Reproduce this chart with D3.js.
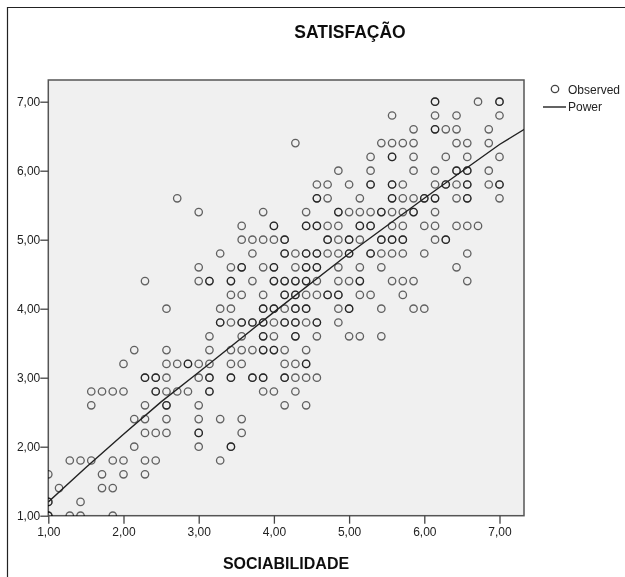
<!DOCTYPE html>
<html><head><meta charset="utf-8">
<style>html,body{margin:0;padding:0;background:#fff}svg{display:block}text{font-family:"Liberation Sans",Arial,sans-serif}</style>
<script src="https://cdn.jsdelivr.net/npm/d3@7"></script></head><body><svg id="c" width="625" height="577"></svg>
<script>
const title = "SATISFAÇÃO", xTitle = "SOCIABILIDADE";
const xTicks = [1,2,3,4,5,6,7], yTicks = [1,2,3,4,5,6,7];
const legendLabels = ["Observed","Power"];
// Observations per SATISFAÇÃO level; each entry is SOCIABILIDADE in sevenths above 1 (repeats = overlapping points)
const satLevels = [1.0,1.2,1.4,1.6,1.8,2.0,2.2,2.4,2.6,2.8,3.0,3.2,3.4,3.6,3.8,4.0,4.2,4.4,4.6,4.8,5.0,5.2,5.4,5.6,5.8,6.0,6.2,6.4,6.6,6.8,7.0];
const r10=[0,0,2,3,6];
const r12=[0,0,3];
const r14=[1,5,6];
const r16=[0,5,7,9];
const r18=[2,3,4,6,7,9,10,16];
const r20=[8,14,17,17];
const r22=[9,10,11,14,14,18];
const r24=[8,9,11,14,16,18];
const r26=[4,9,11,11,14,22,24];
const r28=[4,5,6,7,10,10,11,12,13,15,15,20,21,23];
const r30=[9,9,10,10,11,14,15,15,17,17,19,19,20,20,22,22,23,24,25];
const r32=[7,11,12,13,13,14,15,17,18,22,23,24,24];
const r34=[8,11,15,17,18,19,20,20,21,21,22,24];
const r36=[15,18,20,20,21,23,23,25,28,29,31];
const r38=[16,16,17,18,18,19,19,20,20,21,22,22,23,23,24,25,25,27];
const r40=[11,16,17,20,20,21,21,22,23,23,24,24,27,28,28,31,34,35];
const r42=[17,18,20,22,22,23,23,24,25,26,26,27,27,29,30,33];
const r44=[9,14,15,15,17,17,19,21,21,22,22,23,23,24,24,25,27,28,29,29,32,33,34,39];
const r46=[14,17,18,18,20,21,21,23,24,24,25,25,27,29,31,38];
const r48=[16,19,22,22,23,24,24,25,25,26,27,28,28,30,30,31,32,33,35,39];
const r50=[18,19,20,21,22,22,26,26,27,28,28,29,31,31,32,32,33,33,36,37,37];
const r52=[18,21,21,24,24,25,25,26,27,29,29,30,30,32,33,35,36,38,39,40];
const r54=[14,20,24,27,27,28,29,30,31,31,32,33,34,34,36];
const r56=[12,25,25,26,29,32,32,33,34,35,35,36,36,38,39,39,42];
const r58=[25,26,28,30,30,32,32,33,36,37,37,38,39,39,41,42,42];
const r60=[27,30,34,36,38,38,39,39,41];
const r62=[30,32,32,34,37,39,42];
const r64=[23,31,32,33,34,38,39,41];
const r66=[34,36,36,37,38,41];
const r68=[32,36,38,42];
const r70=[36,36,40,42,42];
const rows=[r10,r12,r14,r16,r18,r20,r22,r24,r26,r28,r30,r32,r34,r36,r38,r40,r42,r44,r46,r48,r50,r52,r54,r56,r58,r60,r62,r64,r66,r68,r70];
// Fitted curve
const curveX=[1,1.5,2,2.5,3,4,5,6,7,7.33];
const curveY=[1.2,1.7,2.18,2.65,3.08,3.95,4.8,5.6,6.38,6.6];

const svg=d3.select("#c");
const defs=svg.append("defs");
defs.append("filter").attr("id","soft").attr("x","-5%").attr("y","-5%").attr("width","110%").attr("height","110%")
  .append("feGaussianBlur").attr("stdDeviation",0.4);
defs.append("clipPath").attr("id","plot").append("rect").attr("x",48).attr("y",80).attr("width",476).attr("height",436);
const root=svg.append("g").attr("filter","url(#soft)");
const x=d3.scaleLinear().domain([1,7]).range([48.3,499.5]);
const y=d3.scaleLinear().domain([1,7]).range([515.7,101.7]);
const L=x.range()[0],R=524,T=80,B=y.range()[0];

root.append("rect").attr("x",0).attr("y",0).attr("width",625).attr("height",577).attr("fill","#fff");
root.append("path").attr("d","M7.5,577V7.5H625").attr("fill","none").attr("stroke","#222").attr("stroke-width",1.2);
root.append("rect").attr("x",L).attr("y",T).attr("width",R-L).attr("height",B-T).attr("fill","#f0f0f0").attr("stroke","#555").attr("stroke-width",1.5);

const pts=[];rows.forEach((r,i)=>r.forEach(n=>pts.push({x:1+n/7,y:satLevels[i]})));
root.append("g").attr("clip-path","url(#plot)").selectAll("circle").data(pts).join("circle")
  .attr("cx",d=>x(d.x)).attr("cy",d=>y(d.y)).attr("r",3.7).attr("fill","none").attr("stroke","#000").attr("stroke-opacity",0.6).attr("stroke-width",1.3);
root.append("path").attr("clip-path","url(#plot)").datum(curveX.map((v,i)=>[v,curveY[i]]))
  .attr("d",d3.line().x(d=>x(d[0])).y(d=>y(d[1]))).attr("fill","none").attr("stroke","#222").attr("stroke-width",1.4);

const fmt=d=>d3.format(".2f")(d).replace(".",",");
const ax=root.append("g").attr("transform",`translate(0,${B})`).call(d3.axisBottom(x).tickValues(xTicks).tickFormat(fmt).tickSize(8).tickPadding(4));
const ay=root.append("g").attr("transform",`translate(${L},0)`).call(d3.axisLeft(y).tickValues(yTicks).tickFormat(fmt).tickSize(8).tickPadding(0));
[ax,ay].forEach(g=>{g.select(".domain").remove();g.selectAll("line").attr("stroke","#444").attr("stroke-width",1.3);
  g.selectAll("text").attr("fill","#222").attr("font-size",12).style("font-family",'"Liberation Sans",Arial,sans-serif');});

root.append("text").attr("x",350).attr("y",38).attr("text-anchor","middle").attr("font-size",17.5).attr("font-weight","bold").attr("fill","#111").text(title);
root.append("text").attr("x",286).attr("y",569).attr("text-anchor","middle").attr("font-size",16).attr("font-weight","bold").attr("fill","#111").text(xTitle);

root.append("circle").attr("cx",555).attr("cy",89).attr("r",3.7).attr("fill","none").attr("stroke","#444").attr("stroke-width",1.3);
root.append("line").attr("x1",543).attr("x2",566).attr("y1",107).attr("y2",107).attr("stroke","#222").attr("stroke-width",1.4);
root.selectAll(".lg").data(legendLabels).join("text").attr("x",568).attr("y",(d,i)=>93.5+i*17.5).attr("font-size",12).attr("fill","#222").text(d=>d);
</script></body></html>
